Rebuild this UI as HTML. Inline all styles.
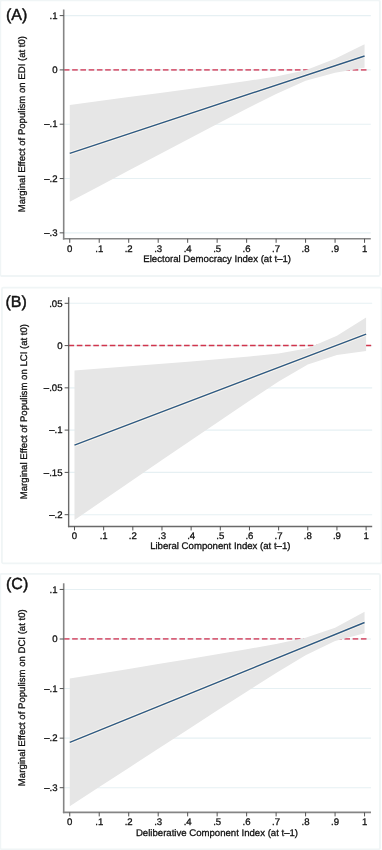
<!DOCTYPE html>
<html><head><meta charset="utf-8"><style>
html,body{margin:0;padding:0;background:#fff;width:382px;height:850px;overflow:hidden}
svg{display:block;will-change:transform}
text{font-family:"Liberation Sans", sans-serif;font-size:9.6px;fill:#111;stroke:#111;stroke-width:0.3px;text-rendering:geometricPrecision}
</style></head><body>
<svg width="382" height="850" viewBox="0 0 382 850">
<rect x="0.3" y="0.3" width="379.6" height="275.7" fill="none" stroke="#f0f5f6" stroke-width="1.8" rx="1.5"/>
<line x1="63.7" y1="15.6" x2="370.8" y2="15.6" stroke="#e6f0f3" stroke-width="1.1"/>
<line x1="63.7" y1="69.9" x2="370.8" y2="69.9" stroke="#e6f0f3" stroke-width="1.1"/>
<line x1="63.7" y1="124.2" x2="370.8" y2="124.2" stroke="#e6f0f3" stroke-width="1.1"/>
<line x1="63.7" y1="178.55" x2="370.8" y2="178.55" stroke="#e6f0f3" stroke-width="1.1"/>
<line x1="63.7" y1="232.85" x2="370.8" y2="232.85" stroke="#e6f0f3" stroke-width="1.1"/>
<line x1="63.9" y1="69.9" x2="368" y2="69.9" stroke="#d8627a" stroke-width="1.9" stroke-dasharray="5.6 2.65"/>
<polygon points="69.75,104.9 99.23,101 128.71,97.09 158.19,93.16 187.67,89.2 217.15,85.18 246.63,81.02 276.11,76.47 305.59,70.18 335.07,58.77 364.55,44.25 364.55,67.75 335.07,72.69 305.59,80.74 276.11,93.91 246.63,108.82 217.15,124.12 187.67,139.56 158.19,155.06 128.71,170.59 99.23,186.14 69.75,201.7" fill="#e6e6e6"/>
<line x1="69.75" y1="153.3" x2="364.55" y2="56.0" stroke="#faf6f0" stroke-width="3.4"/>
<line x1="69.75" y1="153.3" x2="364.55" y2="56.0" stroke="#2f5a82" stroke-width="1.4"/>
<line x1="63.7" y1="9.5" x2="63.7" y2="239.6" stroke="#858585" stroke-width="1.6"/>
<line x1="62.9" y1="238.8" x2="370.8" y2="238.8" stroke="#858585" stroke-width="1.6"/>
<line x1="59.7" y1="15.6" x2="63.7" y2="15.6" stroke="#4a4a4a" stroke-width="0.95"/>
<text x="57.5" y="18.85" text-anchor="end">.1</text>
<line x1="59.7" y1="69.9" x2="63.7" y2="69.9" stroke="#4a4a4a" stroke-width="0.95"/>
<text x="57.5" y="73.15" text-anchor="end">0</text>
<line x1="59.7" y1="124.2" x2="63.7" y2="124.2" stroke="#4a4a4a" stroke-width="0.95"/>
<text x="57.5" y="127.45" text-anchor="end">–.1</text>
<line x1="59.7" y1="178.55" x2="63.7" y2="178.55" stroke="#4a4a4a" stroke-width="0.95"/>
<text x="57.5" y="181.8" text-anchor="end">–.2</text>
<line x1="59.7" y1="232.85" x2="63.7" y2="232.85" stroke="#4a4a4a" stroke-width="0.95"/>
<text x="57.5" y="236.1" text-anchor="end">–.3</text>
<line x1="69.75" y1="238.8" x2="69.75" y2="242.8" stroke="#4a4a4a" stroke-width="0.95"/>
<text x="69.75" y="251.7" text-anchor="middle">0</text>
<line x1="99.23" y1="238.8" x2="99.23" y2="242.8" stroke="#4a4a4a" stroke-width="0.95"/>
<text x="99.23" y="251.7" text-anchor="middle">.1</text>
<line x1="128.71" y1="238.8" x2="128.71" y2="242.8" stroke="#4a4a4a" stroke-width="0.95"/>
<text x="128.71" y="251.7" text-anchor="middle">.2</text>
<line x1="158.19" y1="238.8" x2="158.19" y2="242.8" stroke="#4a4a4a" stroke-width="0.95"/>
<text x="158.19" y="251.7" text-anchor="middle">.3</text>
<line x1="187.67" y1="238.8" x2="187.67" y2="242.8" stroke="#4a4a4a" stroke-width="0.95"/>
<text x="187.67" y="251.7" text-anchor="middle">.4</text>
<line x1="217.15" y1="238.8" x2="217.15" y2="242.8" stroke="#4a4a4a" stroke-width="0.95"/>
<text x="217.15" y="251.7" text-anchor="middle">.5</text>
<line x1="246.63" y1="238.8" x2="246.63" y2="242.8" stroke="#4a4a4a" stroke-width="0.95"/>
<text x="246.63" y="251.7" text-anchor="middle">.6</text>
<line x1="276.11" y1="238.8" x2="276.11" y2="242.8" stroke="#4a4a4a" stroke-width="0.95"/>
<text x="276.11" y="251.7" text-anchor="middle">.7</text>
<line x1="305.59" y1="238.8" x2="305.59" y2="242.8" stroke="#4a4a4a" stroke-width="0.95"/>
<text x="305.59" y="251.7" text-anchor="middle">.8</text>
<line x1="335.07" y1="238.8" x2="335.07" y2="242.8" stroke="#4a4a4a" stroke-width="0.95"/>
<text x="335.07" y="251.7" text-anchor="middle">.9</text>
<line x1="364.55" y1="238.8" x2="364.55" y2="242.8" stroke="#4a4a4a" stroke-width="0.95"/>
<text x="364.55" y="251.7" text-anchor="middle">1</text>
<text x="25.5" y="124.1" text-anchor="middle" transform="rotate(-90 25.5 124.1)">Marginal Effect of Populism on EDI (at t0)</text>
<text x="217.2" y="261.7" text-anchor="middle">Electoral Democracy Index (at t–1)</text>
<text x="6.0" y="20.2" style="font-size:16px;stroke-width:0.45px">(A)</text>
<rect x="1.9" y="287.7" width="379.6" height="275.65" fill="none" stroke="#f0f5f6" stroke-width="1.8" rx="1.5"/>
<line x1="68.65" y1="303.3" x2="372.2" y2="303.3" stroke="#e6f0f3" stroke-width="1.1"/>
<line x1="68.65" y1="345.6" x2="372.2" y2="345.6" stroke="#e6f0f3" stroke-width="1.1"/>
<line x1="68.65" y1="387.85" x2="372.2" y2="387.85" stroke="#e6f0f3" stroke-width="1.1"/>
<line x1="68.65" y1="430.1" x2="372.2" y2="430.1" stroke="#e6f0f3" stroke-width="1.1"/>
<line x1="68.65" y1="472.4" x2="372.2" y2="472.4" stroke="#e6f0f3" stroke-width="1.1"/>
<line x1="68.65" y1="514.7" x2="372.2" y2="514.7" stroke="#e6f0f3" stroke-width="1.1"/>
<line x1="68.55" y1="345.5" x2="372.6" y2="345.5" stroke="#d0354d" stroke-width="1.35" stroke-dasharray="5.6 2.65"/>
<polygon points="74.5,370.4 103.66,368.18 132.82,365.95 161.98,363.69 191.14,361.39 220.3,359.02 249.46,356.47 278.62,353.45 307.78,348.34 336.94,335.7 366.1,317.5 366.1,350.9 336.94,354.9 307.78,364.46 278.62,381.55 249.46,400.73 220.3,420.38 191.14,440.21 161.98,460.11 132.82,480.05 103.66,500.02 74.5,520" fill="#e6e6e6"/>
<line x1="74.5" y1="445.2" x2="366.1" y2="334.2" stroke="#faf6f0" stroke-width="3.4"/>
<line x1="74.5" y1="445.2" x2="366.1" y2="334.2" stroke="#2f5a82" stroke-width="1.4"/>
<line x1="68.65" y1="297.2" x2="68.65" y2="527.15" stroke="#6a6a6a" stroke-width="1.4"/>
<line x1="67.95" y1="526.45" x2="372.2" y2="526.45" stroke="#6a6a6a" stroke-width="1.4"/>
<line x1="64.65" y1="303.3" x2="68.65" y2="303.3" stroke="#4a4a4a" stroke-width="0.95"/>
<text x="62.5" y="306.55" text-anchor="end">.05</text>
<line x1="64.65" y1="345.6" x2="68.65" y2="345.6" stroke="#4a4a4a" stroke-width="0.95"/>
<text x="62.5" y="348.85" text-anchor="end">0</text>
<line x1="64.65" y1="387.85" x2="68.65" y2="387.85" stroke="#4a4a4a" stroke-width="0.95"/>
<text x="62.5" y="391.1" text-anchor="end">–.05</text>
<line x1="64.65" y1="430.1" x2="68.65" y2="430.1" stroke="#4a4a4a" stroke-width="0.95"/>
<text x="62.5" y="433.35" text-anchor="end">–.1</text>
<line x1="64.65" y1="472.4" x2="68.65" y2="472.4" stroke="#4a4a4a" stroke-width="0.95"/>
<text x="62.5" y="475.65" text-anchor="end">–.15</text>
<line x1="64.65" y1="514.7" x2="68.65" y2="514.7" stroke="#4a4a4a" stroke-width="0.95"/>
<text x="62.5" y="517.95" text-anchor="end">–.2</text>
<line x1="74.5" y1="526.45" x2="74.5" y2="530.45" stroke="#4a4a4a" stroke-width="0.95"/>
<text x="74.5" y="538.5" text-anchor="middle">0</text>
<line x1="103.66" y1="526.45" x2="103.66" y2="530.45" stroke="#4a4a4a" stroke-width="0.95"/>
<text x="103.66" y="538.5" text-anchor="middle">.1</text>
<line x1="132.82" y1="526.45" x2="132.82" y2="530.45" stroke="#4a4a4a" stroke-width="0.95"/>
<text x="132.82" y="538.5" text-anchor="middle">.2</text>
<line x1="161.98" y1="526.45" x2="161.98" y2="530.45" stroke="#4a4a4a" stroke-width="0.95"/>
<text x="161.98" y="538.5" text-anchor="middle">.3</text>
<line x1="191.14" y1="526.45" x2="191.14" y2="530.45" stroke="#4a4a4a" stroke-width="0.95"/>
<text x="191.14" y="538.5" text-anchor="middle">.4</text>
<line x1="220.3" y1="526.45" x2="220.3" y2="530.45" stroke="#4a4a4a" stroke-width="0.95"/>
<text x="220.3" y="538.5" text-anchor="middle">.5</text>
<line x1="249.46" y1="526.45" x2="249.46" y2="530.45" stroke="#4a4a4a" stroke-width="0.95"/>
<text x="249.46" y="538.5" text-anchor="middle">.6</text>
<line x1="278.62" y1="526.45" x2="278.62" y2="530.45" stroke="#4a4a4a" stroke-width="0.95"/>
<text x="278.62" y="538.5" text-anchor="middle">.7</text>
<line x1="307.78" y1="526.45" x2="307.78" y2="530.45" stroke="#4a4a4a" stroke-width="0.95"/>
<text x="307.78" y="538.5" text-anchor="middle">.8</text>
<line x1="336.94" y1="526.45" x2="336.94" y2="530.45" stroke="#4a4a4a" stroke-width="0.95"/>
<text x="336.94" y="538.5" text-anchor="middle">.9</text>
<line x1="366.1" y1="526.45" x2="366.1" y2="530.45" stroke="#4a4a4a" stroke-width="0.95"/>
<text x="366.1" y="538.5" text-anchor="middle">1</text>
<text x="26.7" y="411.6" text-anchor="middle" transform="rotate(-90 26.7 411.6)">Marginal Effect of Populism on LCI (at t0)</text>
<text x="220.3" y="549.4" text-anchor="middle">Liberal Component Index (at t–1)</text>
<text x="5.5" y="306.5" style="font-size:16px;stroke-width:0.45px">(B)</text>
<rect x="0.3" y="573.8" width="379.7" height="275.5" fill="none" stroke="#f0f5f6" stroke-width="1.8" rx="1.5"/>
<line x1="63.7" y1="589.45" x2="371" y2="589.45" stroke="#e6f0f3" stroke-width="1.1"/>
<line x1="63.7" y1="639.0" x2="371" y2="639.0" stroke="#e6f0f3" stroke-width="1.1"/>
<line x1="63.7" y1="688.55" x2="371" y2="688.55" stroke="#e6f0f3" stroke-width="1.1"/>
<line x1="63.7" y1="738.15" x2="371" y2="738.15" stroke="#e6f0f3" stroke-width="1.1"/>
<line x1="63.7" y1="787.7" x2="371" y2="787.7" stroke="#e6f0f3" stroke-width="1.1"/>
<line x1="63.9" y1="638.9" x2="368" y2="638.9" stroke="#d8627a" stroke-width="1.9" stroke-dasharray="5.6 2.65"/>
<polygon points="69.75,678.6 99.23,673.78 128.71,668.95 158.19,664.1 187.67,659.22 217.15,654.29 246.63,649.26 276.11,643.97 305.59,637.82 335.07,627.87 364.55,611.7 364.55,633.3 335.07,641.11 305.59,655.14 276.11,672.97 246.63,691.66 217.15,710.61 187.67,729.66 158.19,748.76 128.71,767.89 99.23,787.04 69.75,806.2" fill="#e6e6e6"/>
<line x1="69.75" y1="742.4" x2="364.55" y2="622.5" stroke="#faf6f0" stroke-width="3.4"/>
<line x1="69.75" y1="742.4" x2="364.55" y2="622.5" stroke="#2f5a82" stroke-width="1.4"/>
<line x1="63.7" y1="583.3" x2="63.7" y2="813.2" stroke="#858585" stroke-width="1.6"/>
<line x1="62.9" y1="812.4" x2="371" y2="812.4" stroke="#858585" stroke-width="1.6"/>
<line x1="59.7" y1="589.45" x2="63.7" y2="589.45" stroke="#4a4a4a" stroke-width="0.95"/>
<text x="57.5" y="592.7" text-anchor="end">.1</text>
<line x1="59.7" y1="639.0" x2="63.7" y2="639.0" stroke="#4a4a4a" stroke-width="0.95"/>
<text x="57.5" y="642.25" text-anchor="end">0</text>
<line x1="59.7" y1="688.55" x2="63.7" y2="688.55" stroke="#4a4a4a" stroke-width="0.95"/>
<text x="57.5" y="691.8" text-anchor="end">–.1</text>
<line x1="59.7" y1="738.15" x2="63.7" y2="738.15" stroke="#4a4a4a" stroke-width="0.95"/>
<text x="57.5" y="741.4" text-anchor="end">–.2</text>
<line x1="59.7" y1="787.7" x2="63.7" y2="787.7" stroke="#4a4a4a" stroke-width="0.95"/>
<text x="57.5" y="790.95" text-anchor="end">–.3</text>
<line x1="69.75" y1="812.4" x2="69.75" y2="816.4" stroke="#4a4a4a" stroke-width="0.95"/>
<text x="69.75" y="825.4" text-anchor="middle">0</text>
<line x1="99.23" y1="812.4" x2="99.23" y2="816.4" stroke="#4a4a4a" stroke-width="0.95"/>
<text x="99.23" y="825.4" text-anchor="middle">.1</text>
<line x1="128.71" y1="812.4" x2="128.71" y2="816.4" stroke="#4a4a4a" stroke-width="0.95"/>
<text x="128.71" y="825.4" text-anchor="middle">.2</text>
<line x1="158.19" y1="812.4" x2="158.19" y2="816.4" stroke="#4a4a4a" stroke-width="0.95"/>
<text x="158.19" y="825.4" text-anchor="middle">.3</text>
<line x1="187.67" y1="812.4" x2="187.67" y2="816.4" stroke="#4a4a4a" stroke-width="0.95"/>
<text x="187.67" y="825.4" text-anchor="middle">.4</text>
<line x1="217.15" y1="812.4" x2="217.15" y2="816.4" stroke="#4a4a4a" stroke-width="0.95"/>
<text x="217.15" y="825.4" text-anchor="middle">.5</text>
<line x1="246.63" y1="812.4" x2="246.63" y2="816.4" stroke="#4a4a4a" stroke-width="0.95"/>
<text x="246.63" y="825.4" text-anchor="middle">.6</text>
<line x1="276.11" y1="812.4" x2="276.11" y2="816.4" stroke="#4a4a4a" stroke-width="0.95"/>
<text x="276.11" y="825.4" text-anchor="middle">.7</text>
<line x1="305.59" y1="812.4" x2="305.59" y2="816.4" stroke="#4a4a4a" stroke-width="0.95"/>
<text x="305.59" y="825.4" text-anchor="middle">.8</text>
<line x1="335.07" y1="812.4" x2="335.07" y2="816.4" stroke="#4a4a4a" stroke-width="0.95"/>
<text x="335.07" y="825.4" text-anchor="middle">.9</text>
<line x1="364.55" y1="812.4" x2="364.55" y2="816.4" stroke="#4a4a4a" stroke-width="0.95"/>
<text x="364.55" y="825.4" text-anchor="middle">1</text>
<text x="25.3" y="697.7" text-anchor="middle" transform="rotate(-90 25.3 697.7)">Marginal Effect of Populism on DCI (at t0)</text>
<text x="217.0" y="835.5" text-anchor="middle">Deliberative Component Index (at t–1)</text>
<text x="6.0" y="588.6" style="font-size:16px;stroke-width:0.45px">(C)</text>
</svg>
</body></html>
